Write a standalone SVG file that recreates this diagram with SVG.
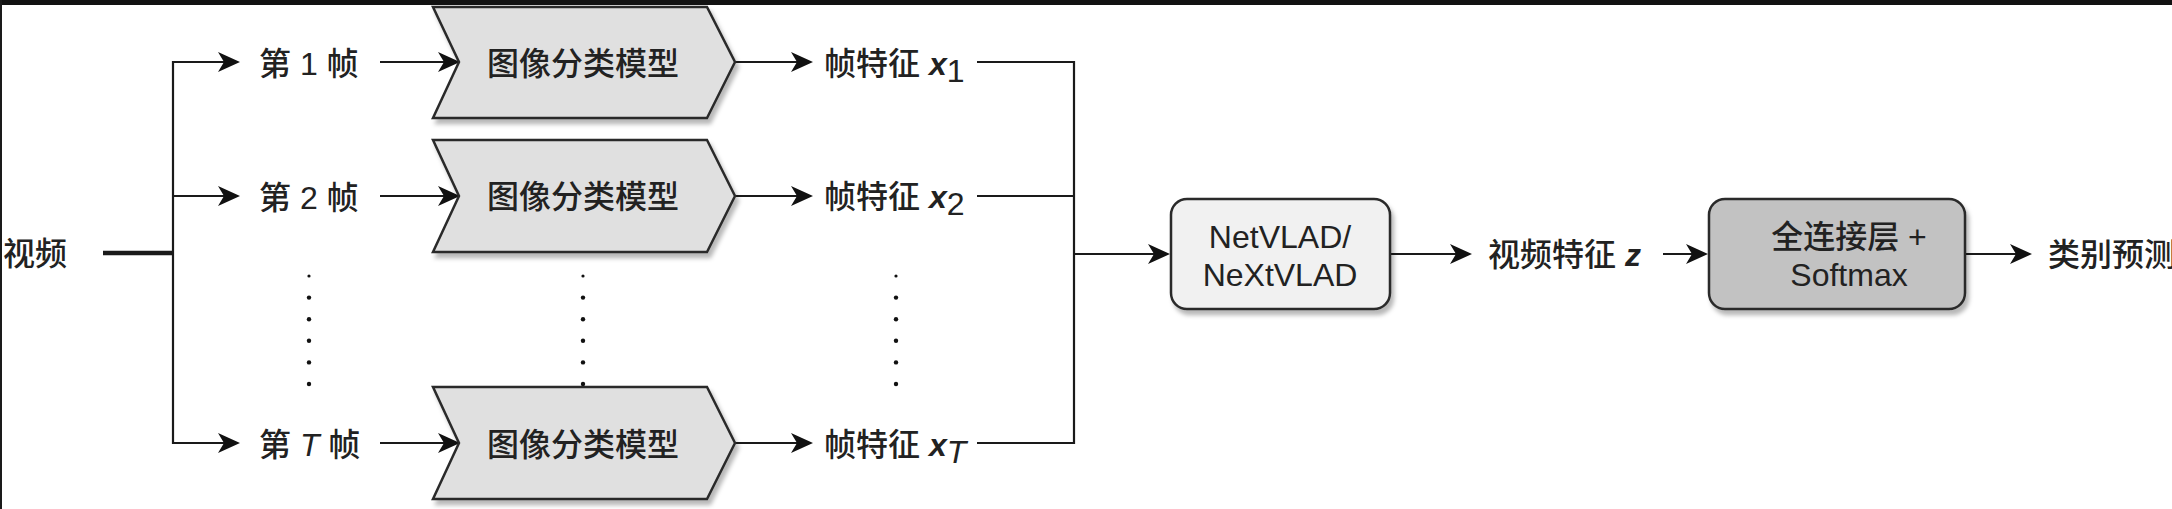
<svg xmlns="http://www.w3.org/2000/svg" width="2172" height="509" viewBox="0 0 2172 509">
  <style>
    .t { font-family: "Liberation Sans", "Noto Sans CJK SC", sans-serif; font-size: 32px; fill: #222; font-weight: 500; }
    .c { text-anchor: middle; }
    .ln { fill: none; stroke: #1a1a1a; stroke-width: 2.2; }
    .thick { stroke-width: 4.5; }
    .arr { marker-end: url(#ah); }
    .chev { fill: #e0e0e0; stroke: #2a2a2a; stroke-width: 2.5; stroke-linejoin: miter; filter: url(#sh); }
    .box { stroke: #2a2a2a; stroke-width: 2.5; filter: url(#sh); }
    .dot { fill: #111; }
    .bi { font-weight: bold; font-style: italic; }
  </style>
  <defs>
    <marker id="ah" viewBox="0 0 22 20" refX="14" refY="10" markerWidth="22" markerHeight="20" markerUnits="userSpaceOnUse" orient="auto">
      <path d="M0,0 L22,10 L0,20 L6,10 Z" fill="#111"/>
    </marker>
    <filter id="sh" x="-5%" y="-10%" width="115%" height="130%">
      <feDropShadow dx="3" dy="5" stdDeviation="2" flood-color="#000" flood-opacity="0.28"/>
    </filter>
  </defs>

  <rect x="0" y="0" width="2172" height="509" fill="#ffffff"/>
  <rect x="0" y="0" width="2172" height="5" fill="#121212"/>
  <rect x="0" y="0" width="2" height="509" fill="#1a1a1a"/>

  <g id="connectors">
    <path class="ln thick" d="M103,253 H173"/>
    <path class="ln arr" d="M173,253 V62 H232"/>
    <path class="ln arr" d="M173,196 H232"/>
    <path class="ln arr" d="M173,253 V443 H232"/>
    <path class="ln arr" d="M380,62 H452"/>
    <path class="ln arr" d="M380,196 H452"/>
    <path class="ln arr" d="M380,443 H452"/>
    <path class="ln arr" d="M735,62 H805"/>
    <path class="ln arr" d="M735,196 H805"/>
    <path class="ln arr" d="M735,443 H805"/>
    <path class="ln" d="M977,62 H1074 V443 H977"/>
    <path class="ln" d="M977,196 H1074"/>
    <path class="ln arr" d="M1074,254 H1162"/>
    <path class="ln arr" d="M1390,254 H1464"/>
    <path class="ln arr" d="M1663,254 H1700"/>
    <path class="ln arr" d="M1965,254 H2024"/>
  </g>

  <g id="ellipsis">
    <circle class="dot" cx="309" cy="276" r="1.6"/>
    <circle class="dot" cx="309" cy="297.6" r="2.2"/>
    <circle class="dot" cx="309" cy="319.2" r="2.2"/>
    <circle class="dot" cx="309" cy="340.8" r="2.2"/>
    <circle class="dot" cx="309" cy="362.4" r="2.2"/>
    <circle class="dot" cx="309" cy="384" r="2.2"/>
    <circle class="dot" cx="583" cy="276" r="1.6"/>
    <circle class="dot" cx="583" cy="297.6" r="2.2"/>
    <circle class="dot" cx="583" cy="319.2" r="2.2"/>
    <circle class="dot" cx="583" cy="340.8" r="2.2"/>
    <circle class="dot" cx="583" cy="362.4" r="2.2"/>
    <circle class="dot" cx="583" cy="384" r="2.2"/>
    <circle class="dot" cx="896" cy="276" r="1.6"/>
    <circle class="dot" cx="896" cy="297.6" r="2.2"/>
    <circle class="dot" cx="896" cy="319.2" r="2.2"/>
    <circle class="dot" cx="896" cy="340.8" r="2.2"/>
    <circle class="dot" cx="896" cy="362.4" r="2.2"/>
    <circle class="dot" cx="896" cy="384" r="2.2"/>
  </g>

  <g id="video"><text class="t" x="3" y="265">视频</text></g>

  <g id="frame1"><text class="t" x="259" y="75">第 1 帧</text></g>
  <g id="frame2"><text class="t" x="259" y="209">第 2 帧</text></g>
  <g id="frameT"><text class="t" x="259" y="456">第 <tspan font-style="italic">T</tspan> 帧</text></g>

  <g id="model1">
    <polygon class="chev" points="433,7 707,7 735,62 707,118 433,118 459,62"/>
    <text class="t c" x="583" y="75">图像分类模型</text>
  </g>
  <g id="model2">
    <polygon class="chev" points="433,140 707,140 735,196 707,252 433,252 459,196"/>
    <text class="t c" x="583" y="208">图像分类模型</text>
  </g>
  <g id="modelT">
    <polygon class="chev" points="433,387 707,387 735,443 707,499 433,499 459,443"/>
    <text class="t c" x="583" y="456">图像分类模型</text>
  </g>

  <g id="feat1"><text class="t" x="824" y="75">帧特征 <tspan class="bi">x</tspan><tspan dy="7">1</tspan></text></g>
  <g id="feat2"><text class="t" x="824" y="208">帧特征 <tspan class="bi">x</tspan><tspan dy="7">2</tspan></text></g>
  <g id="featT"><text class="t" x="824" y="456">帧特征 <tspan class="bi">x</tspan><tspan dy="7" font-style="italic">T</tspan></text></g>

  <g id="netvlad">
    <rect class="box" x="1171" y="199" width="219" height="110" rx="16" ry="16" fill="#f1f1f1"/>
    <text class="t c" x="1280" y="248">NetVLAD/</text>
    <text class="t c" x="1280" y="286">NeXtVLAD</text>
  </g>

  <g id="videofeat"><text class="t" x="1488" y="266">视频特征 <tspan class="bi">z</tspan></text></g>

  <g id="fc">
    <rect class="box" x="1709" y="199" width="256" height="110" rx="16" ry="16" fill="#c2c2c2"/>
    <text class="t c" x="1849" y="248">全连接层 +</text>
    <text class="t c" x="1849" y="286">Softmax</text>
  </g>

  <g id="pred"><text class="t" x="2048" y="266">类别预测</text></g>
</svg>
